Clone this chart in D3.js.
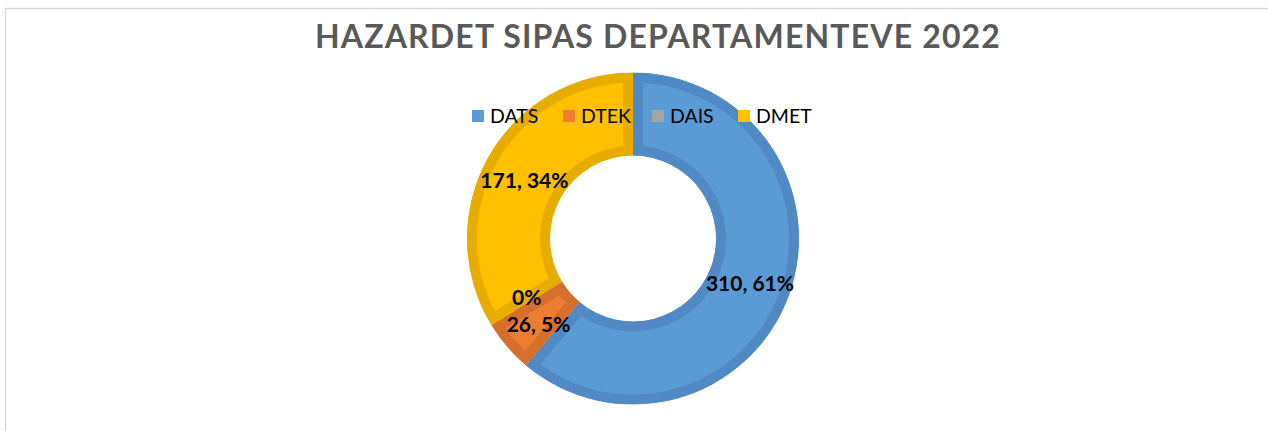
<!DOCTYPE html>
<html lang="en">
<head>
    <meta charset="UTF-8">
    <title>Hazardet sipas departamenteve 2022</title>
    <style>
        body { margin: 0; background: #fff; }
        svg { display: block; font-family: Lato, "Open Sans", sans-serif; }
    </style>
</head>
<body>
<svg id="chart"></svg>
<script src="https://cdnjs.cloudflare.com/ajax/libs/d3/7.8.5/d3.min.js"></script>
<script>
    var width = 1268;
    var height = 431;
    var title = "HAZARDET SIPAS DEPARTAMENTEVE 2022";
    var categories = ["DATS", "DTEK", "DAIS", "DMET"];
    var values = [310, 26, 0, 171];
    var fills = ["#5b9bd5", "#ed7d31", "#a5a5a5", "#ffc000"];
    var edges = ["#5089c4", "#d4702c", "#949494", "#e6ad00"];

    var cx = 633, cy = 238.5, outerR = 166, innerR = 83, edgeW = 10;

    var svg = d3.select("#chart").attr("width", width).attr("height", height);
    var defs = svg.append("defs");

    // chart frame (only top/left visible in the picture)
    svg.append("rect")
        .attr("x", 5.5).attr("y", 8.5)
        .attr("width", width + 20).attr("height", height + 20)
        .attr("fill", "none").attr("stroke", "#d9d9d9").attr("stroke-width", 1.5);

    // title, stretched to the width seen in the picture
    var t = svg.append("text")
        .attr("x", 658).attr("y", 48)
        .attr("text-anchor", "middle")
        .attr("font-size", 32).attr("font-weight", "bold")
        .attr("fill", "#595959")
        .text(title);
    var tw = t.node().getComputedTextLength();
    t.attr("letter-spacing", (685 - tw) / (title.length - 1));

    var total = d3.sum(values);
    var data = categories.map(function(c, i) { return {name: c, value: values[i], i: i}; });
    var pie = d3.pie().sort(null).value(function(d) { return d.value; });
    var arc = d3.arc().innerRadius(innerR).outerRadius(outerR);
    var arcs = pie(data);

    var g = svg.append("g").attr("transform", "translate(" + cx + "," + cy + ")");

    // each slice: lighter fill with a thick darker outline kept inside the slice
    arcs.forEach(function(a) {
        if (a.value === 0) return;
        var id = "clip" + a.data.i;
        defs.append("clipPath").attr("id", id).append("path").attr("d", arc(a));
        g.append("path")
            .attr("d", arc(a))
            .attr("clip-path", "url(#" + id + ")")
            .attr("fill", fills[a.data.i])
            .attr("stroke", edges[a.data.i])
            .attr("stroke-width", edgeW * 2)
            .attr("stroke-linejoin", "miter");
    });

    // legend
    var legendX = [472, 563, 652, 738];
    var lg = svg.append("g");
    categories.forEach(function(c, i) {
        lg.append("rect")
            .attr("x", legendX[i]).attr("y", 110)
            .attr("width", 12).attr("height", 12)
            .attr("fill", fills[i]);
        lg.append("text")
            .attr("x", legendX[i] + 18).attr("y", 123)
            .attr("font-size", 19.5)
            .attr("fill", "#000")
            .text(c);
    });

    // data labels at the slice centroids
    var nudge = [[0, 1], [0, 4], [0, -7], [0, 2]];
    arcs.forEach(function(a) {
        var c = arc.centroid(a);
        var pct = Math.round(a.value / total * 100) + "%";
        var txt = a.value === 0 ? pct : a.value + ", " + pct;
        svg.append("text")
            .attr("x", cx + c[0] + nudge[a.data.i][0])
            .attr("y", cy + c[1] + nudge[a.data.i][1])
            .attr("text-anchor", "middle")
            .attr("dominant-baseline", "central")
            .attr("font-size", 21).attr("font-weight", "bold")
            .attr("fill", "#000")
            .text(txt);
    });
</script>
</body>
</html>
